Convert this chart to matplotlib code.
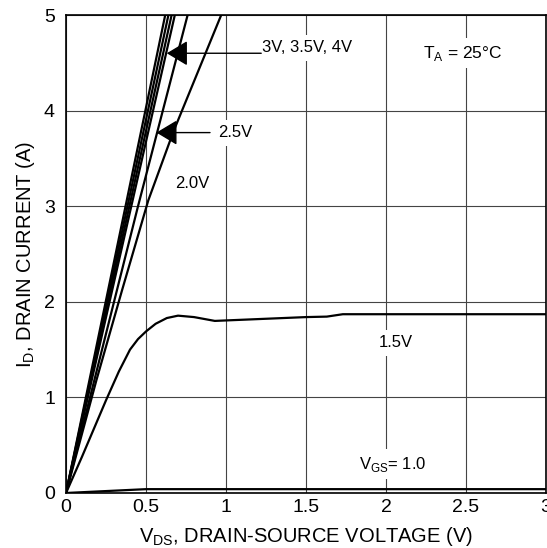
import matplotlib
matplotlib.use("Agg")
import matplotlib.pyplot as plt
from matplotlib.ticker import FormatStrFormatter

plt.rcParams["font.family"] = ["Liberation Sans", "DejaVu Sans"]
plt.rcParams["mathtext.fontset"] = "custom"
plt.rcParams["mathtext.rm"] = "Liberation Sans"

# output characteristics
vds_10 = [0.0, 0.5, 3.0]
id_10 = [0.0, 0.04, 0.04]

vds_15 = [0.0, 0.1, 0.25, 0.33, 0.4, 0.45, 0.5, 0.56, 0.63, 0.7, 0.8, 0.93, 1.0, 1.5, 1.63, 1.73, 3.0]
id_15 = [0.0, 0.38, 0.97, 1.27, 1.5, 1.61, 1.69, 1.77, 1.83, 1.855, 1.84, 1.80, 1.805, 1.84, 1.845, 1.87, 1.87]

vds_20 = [0.0, 0.19, 0.35, 0.514, 0.671, 0.97]
id_20 = [0.0, 1.18, 2.12, 3.06, 3.78, 5.0]

vds_25 = [0.0, 0.45, 0.76]
id_25 = [0.0, 3.0, 5.0]

# steep group (3V .. 4.5V), end points at the top of the chart
vds_high = [[0.0, 0.68], [0.0, 0.66], [0.0, 0.64], [0.0, 0.62]]
id_high = [[0.0, 5.0], [0.0, 5.0], [0.0, 5.0], [0.0, 5.0]]

x_ticks = [0, 0.5, 1, 1.5, 2, 2.5, 3]
y_ticks = [0, 1, 2, 3, 4, 5]

fig = plt.figure(figsize=(5.47, 5.48), dpi=100)
ax = fig.add_axes([0.1207, 0.1004, 0.8775, 0.8722])

lw = 1.6
ax.plot(vds_10, id_10, color="black", lw=lw, zorder=3)
ax.plot(vds_15, id_15, color="black", lw=lw, zorder=3)
ax.plot(vds_20, id_20, color="black", lw=lw, zorder=3)
ax.plot(vds_25, id_25, color="black", lw=lw, zorder=3)
for xs, ys in zip(vds_high, id_high):
    ax.plot(xs, ys, color="black", lw=lw, zorder=3)

ax.set_xlim(0, 3)
ax.set_ylim(0, 5)
ax.set_xticks(x_ticks)
ax.set_yticks(y_ticks)
ax.xaxis.set_major_formatter(FormatStrFormatter("%g"))
ax.grid(True, color="#444444", lw=0.8, zorder=1)
ax.set_axisbelow(True)
ax.tick_params(length=0, labelsize=14, colors="black")
ax.tick_params(axis="y", pad=8)
ax.tick_params(axis="x", pad=4)
for s in ax.spines.values():
    s.set_linewidth(1.2)
    s.set_zorder(4)

ax.set_xlabel(r"V$_\mathregular{DS}$, DRAIN-SOURCE VOLTAGE (V)", fontsize=14.5, labelpad=7)
ax.set_ylabel(r"I$_\mathregular{D}$, DRAIN CURRENT (A)", fontsize=14.5, labelpad=5)

box = dict(facecolor="white", edgecolor="none", pad=4)
ax.text(1.225, 4.66, "3V, 3.5V, 4V", fontsize=12, ha="left", va="center", bbox=box, zorder=5)
ax.text(1.056, 3.77, "2.5V", fontsize=12, ha="center", va="center", bbox=box, zorder=5)
ax.text(0.79, 3.24, "2.0V", fontsize=12, ha="center", va="center", bbox=box, zorder=5)
ax.text(2.06, 1.57, "1.5V", fontsize=12, ha="center", va="center", bbox=box, zorder=5)
ax.text(2.04, 0.30, r"V$_\mathregular{GS}$= 1.0", fontsize=12, ha="center", va="center", bbox=box, zorder=5)
ax.text(2.48, 4.6, r"T$_\mathregular{A}$ = 25°C", fontsize=12.5, ha="center", va="center", bbox=box, zorder=5)

arrow = dict(arrowstyle="-|>,head_length=1.0,head_width=0.6", mutation_scale=13,
             color="black", lw=1.0, shrinkA=0, shrinkB=0)
ax.annotate("", xy=(0.63, 4.6), xytext=(1.22, 4.6), arrowprops=arrow, zorder=5)
ax.annotate("", xy=(0.565, 3.77), xytext=(0.9, 3.77), arrowprops=arrow, zorder=5)

fig.savefig("out.png", dpi=100)
